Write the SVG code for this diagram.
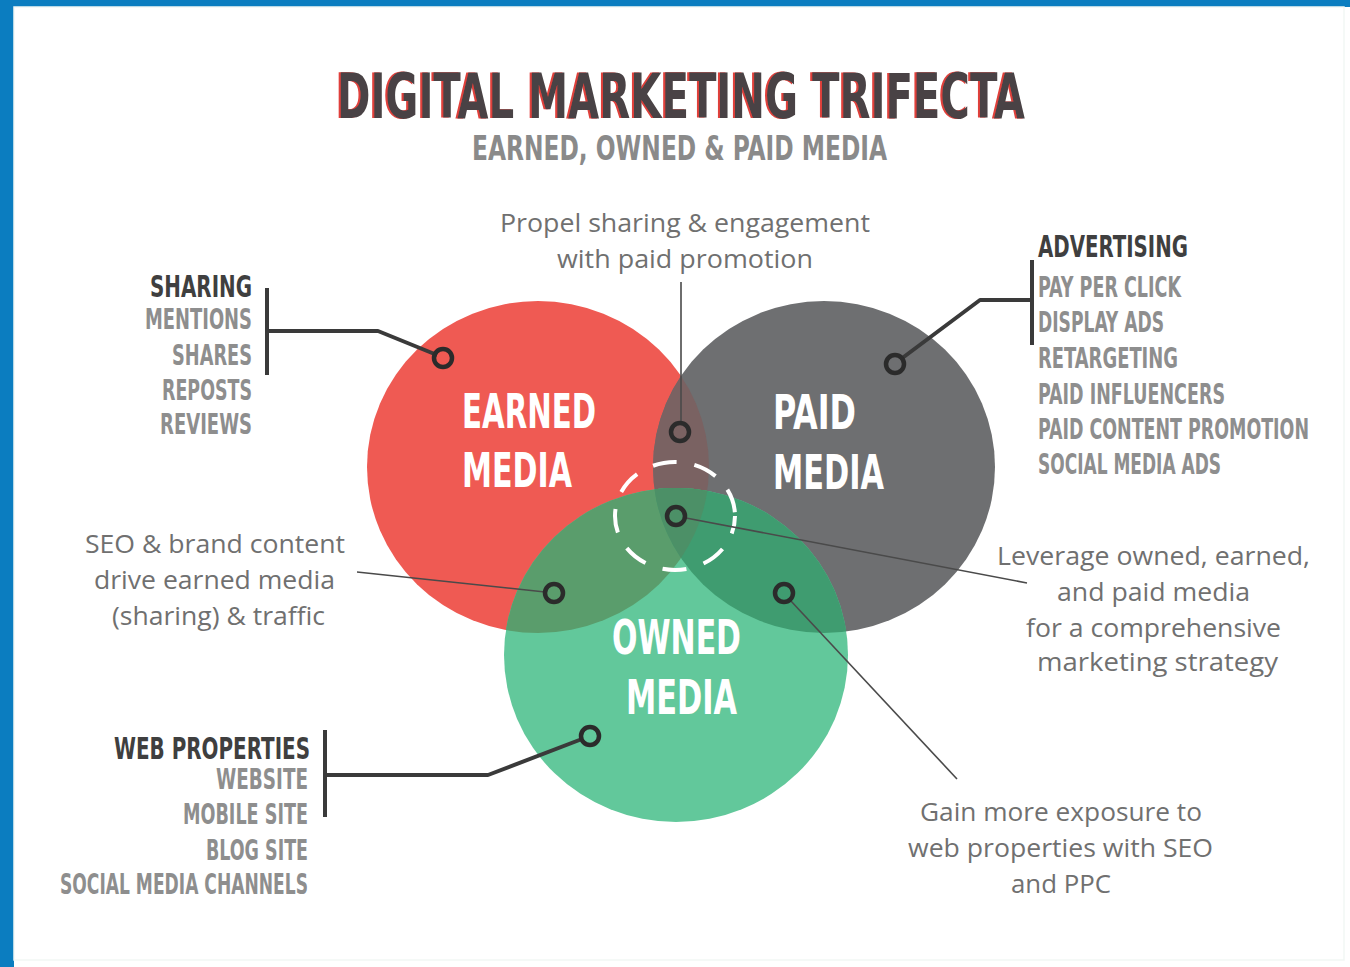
<svg xmlns="http://www.w3.org/2000/svg" width="1350" height="967" viewBox="0 0 1350 967">
<style>
.cond{font-family:"Liberation Sans Narrow","DejaVu Sans Condensed","Liberation Sans",sans-serif;font-weight:bold}
.head{fill:#3f3f3f;font-size:31px}
.item{fill:#8e8e8e;font-size:28px}
.big{fill:#ffffff;font-size:48px}
.body{font-family:"Open Sans","Noto Sans",sans-serif;fill:#707070;font-size:25px}
.ring{fill:none;stroke:#2b2b2b;stroke-width:4.5}
.bar{stroke:#3a3a3a;stroke-width:4;fill:none}
.lead{stroke:#3a3a3a;stroke-width:4;fill:none;stroke-linejoin:round}
.thin{stroke:#4a4a4a;stroke-width:1.6;fill:none}
</style>
<defs>
<filter id="redfringe" x="-5%" y="-20%" width="110%" height="140%">
<feFlood flood-color="#e0403a" result="f"/>
<feComposite in="f" in2="SourceAlpha" operator="in" result="r"/>
<feOffset in="r" dx="-2" dy="0" result="ro"/>
<feMerge><feMergeNode in="ro"/><feMergeNode in="SourceGraphic"/></feMerge>
</filter>
<clipPath id="cE"><ellipse cx="538" cy="467" rx="171" ry="166"/></clipPath>
<clipPath id="cP"><ellipse cx="824" cy="467" rx="171" ry="166"/></clipPath>
<clipPath id="cPE" clip-path="url(#cE)"><ellipse cx="824" cy="467" rx="171" ry="166"/></clipPath>
</defs>
<rect width="1350" height="967" fill="#ffffff"/>
<rect x="0" y="0" width="1350" height="7" fill="#0b7dc0"/>
<rect x="0" y="0" width="14" height="967" fill="#0b7dc0"/>
<rect x="14" y="7" width="1330" height="953" fill="none" stroke="#f2f7f5" stroke-width="1.5"/>

<g id="title">
<text x="337" y="118" class="cond" font-size="62" fill="#4a4344" filter="url(#redfringe)" textLength="688" lengthAdjust="spacingAndGlyphs">DIGITAL MARKETING TRIFECTA</text>
<text x="472" y="160" class="cond" font-size="34" fill="#8a8a8a" textLength="415" lengthAdjust="spacingAndGlyphs">EARNED, OWNED &amp; PAID MEDIA</text>
</g>

<g id="venn">
<ellipse id="earned-circle" cx="538" cy="467" rx="171" ry="166" fill="#ef5a53"/>
<ellipse id="paid-circle" cx="824" cy="467" rx="171" ry="166" fill="#6e6f71"/>
<ellipse cx="824" cy="467" rx="171" ry="166" fill="#7a6262" clip-path="url(#cE)"/>
<ellipse id="owned-circle" cx="676" cy="655" rx="172" ry="167" fill="#62c89b"/>
<ellipse cx="676" cy="655" rx="172" ry="167" fill="#5a9d6c" clip-path="url(#cE)"/>
<ellipse cx="676" cy="655" rx="172" ry="167" fill="#3f9c70" clip-path="url(#cP)"/>
<ellipse cx="676" cy="655" rx="172" ry="167" fill="#4c9067" clip-path="url(#cPE)"/>
<ellipse cx="675" cy="516" rx="60" ry="54" fill="none" stroke="#ffffff" stroke-width="4" stroke-dasharray="24 18" stroke-dashoffset="6"/>
</g>

<g id="earned">
<text x="462" y="428" class="cond big" textLength="134" lengthAdjust="spacingAndGlyphs">EARNED</text>
<text x="462" y="487" class="cond big" textLength="110" lengthAdjust="spacingAndGlyphs">MEDIA</text>
</g>
<g id="paid">
<text x="773" y="429" class="cond big" textLength="83" lengthAdjust="spacingAndGlyphs">PAID</text>
<text x="773" y="489" class="cond big" textLength="111" lengthAdjust="spacingAndGlyphs">MEDIA</text>
</g>
<g id="owned">
<text x="612" y="654" class="cond big" textLength="129" lengthAdjust="spacingAndGlyphs">OWNED</text>
<text x="626" y="714" class="cond big" textLength="111" lengthAdjust="spacingAndGlyphs">MEDIA</text>
</g>

<g id="connectors">
<path class="bar" d="M267 288 V375"/>
<path class="lead" d="M267 331 H378 L437 355"/>
<path class="bar" d="M1032 260 V345"/>
<path class="lead" d="M1032 300 H980 L901 359"/>
<path class="bar" d="M325 730 V817"/>
<path class="lead" d="M325 775 H488 L582 739"/>
<path class="thin" d="M681 282 V423"/>
<path class="thin" d="M357 572 L545 592"/>
<path class="thin" d="M686 518 L1027 583"/>
<path class="thin" d="M790 600 L957 779"/>
<circle class="ring" cx="443" cy="358" r="9"/>
<circle class="ring" cx="680" cy="432" r="9"/>
<circle class="ring" cx="676" cy="516" r="9"/>
<circle class="ring" cx="554" cy="593" r="9"/>
<circle class="ring" cx="784" cy="593" r="9"/>
<circle class="ring" cx="895" cy="364" r="9"/>
<circle class="ring" cx="590" cy="736" r="9"/>
</g>

<g id="sharing" text-anchor="end">
<text x="252" y="297" class="cond head" textLength="102" lengthAdjust="spacingAndGlyphs">SHARING</text>
<text x="252" y="329" class="cond item" textLength="107" lengthAdjust="spacingAndGlyphs">MENTIONS</text>
<text x="252" y="365" class="cond item" textLength="80" lengthAdjust="spacingAndGlyphs">SHARES</text>
<text x="252" y="400" class="cond item" textLength="90" lengthAdjust="spacingAndGlyphs">REPOSTS</text>
<text x="252" y="434" class="cond item" textLength="92" lengthAdjust="spacingAndGlyphs">REVIEWS</text>
</g>

<g id="advertising">
<text x="1038" y="257" class="cond head" textLength="150" lengthAdjust="spacingAndGlyphs">ADVERTISING</text>
<text x="1038" y="297" class="cond item" textLength="143" lengthAdjust="spacingAndGlyphs">PAY PER CLICK</text>
<text x="1038" y="332" class="cond item" textLength="126" lengthAdjust="spacingAndGlyphs">DISPLAY ADS</text>
<text x="1038" y="368" class="cond item" textLength="140" lengthAdjust="spacingAndGlyphs">RETARGETING</text>
<text x="1038" y="404" class="cond item" textLength="187" lengthAdjust="spacingAndGlyphs">PAID INFLUENCERS</text>
<text x="1038" y="439" class="cond item" textLength="271" lengthAdjust="spacingAndGlyphs">PAID CONTENT PROMOTION</text>
<text x="1038" y="474" class="cond item" textLength="183" lengthAdjust="spacingAndGlyphs">SOCIAL MEDIA ADS</text>
</g>

<g id="web-properties" text-anchor="end">
<text x="310" y="759" class="cond head" font-size="30" textLength="196" lengthAdjust="spacingAndGlyphs">WEB PROPERTIES</text>
<text x="308" y="789" class="cond item" textLength="92" lengthAdjust="spacingAndGlyphs">WEBSITE</text>
<text x="308" y="824" class="cond item" textLength="125" lengthAdjust="spacingAndGlyphs">MOBILE SITE</text>
<text x="308" y="860" class="cond item" textLength="102" lengthAdjust="spacingAndGlyphs">BLOG SITE</text>
<text x="308" y="894" class="cond item" textLength="248" lengthAdjust="spacingAndGlyphs">SOCIAL MEDIA CHANNELS</text>
</g>

<g id="propel" class="body">
<text x="500" y="232" textLength="370" lengthAdjust="spacingAndGlyphs">Propel sharing &amp; engagement</text>
<text x="557" y="268" textLength="256" lengthAdjust="spacingAndGlyphs">with paid promotion</text>
</g>

<g id="seo" class="body">
<text x="85" y="553" textLength="260" lengthAdjust="spacingAndGlyphs">SEO &amp; brand content</text>
<text x="94" y="589" textLength="241" lengthAdjust="spacingAndGlyphs">drive earned media</text>
<text x="112" y="625" textLength="213" lengthAdjust="spacingAndGlyphs">(sharing) &amp; traffic</text>
</g>

<g id="leverage" class="body">
<text x="997" y="565" textLength="313" lengthAdjust="spacingAndGlyphs">Leverage owned, earned,</text>
<text x="1057" y="601" textLength="193" lengthAdjust="spacingAndGlyphs">and paid media</text>
<text x="1026" y="637" textLength="255" lengthAdjust="spacingAndGlyphs">for a comprehensive</text>
<text x="1037" y="671" textLength="241" lengthAdjust="spacingAndGlyphs">marketing strategy</text>
</g>

<g id="gain" class="body">
<text x="920" y="821" textLength="282" lengthAdjust="spacingAndGlyphs">Gain more exposure to</text>
<text x="908" y="857" textLength="305" lengthAdjust="spacingAndGlyphs">web properties with SEO</text>
<text x="1011" y="893" textLength="100" lengthAdjust="spacingAndGlyphs">and PPC</text>
</g>
</svg>
